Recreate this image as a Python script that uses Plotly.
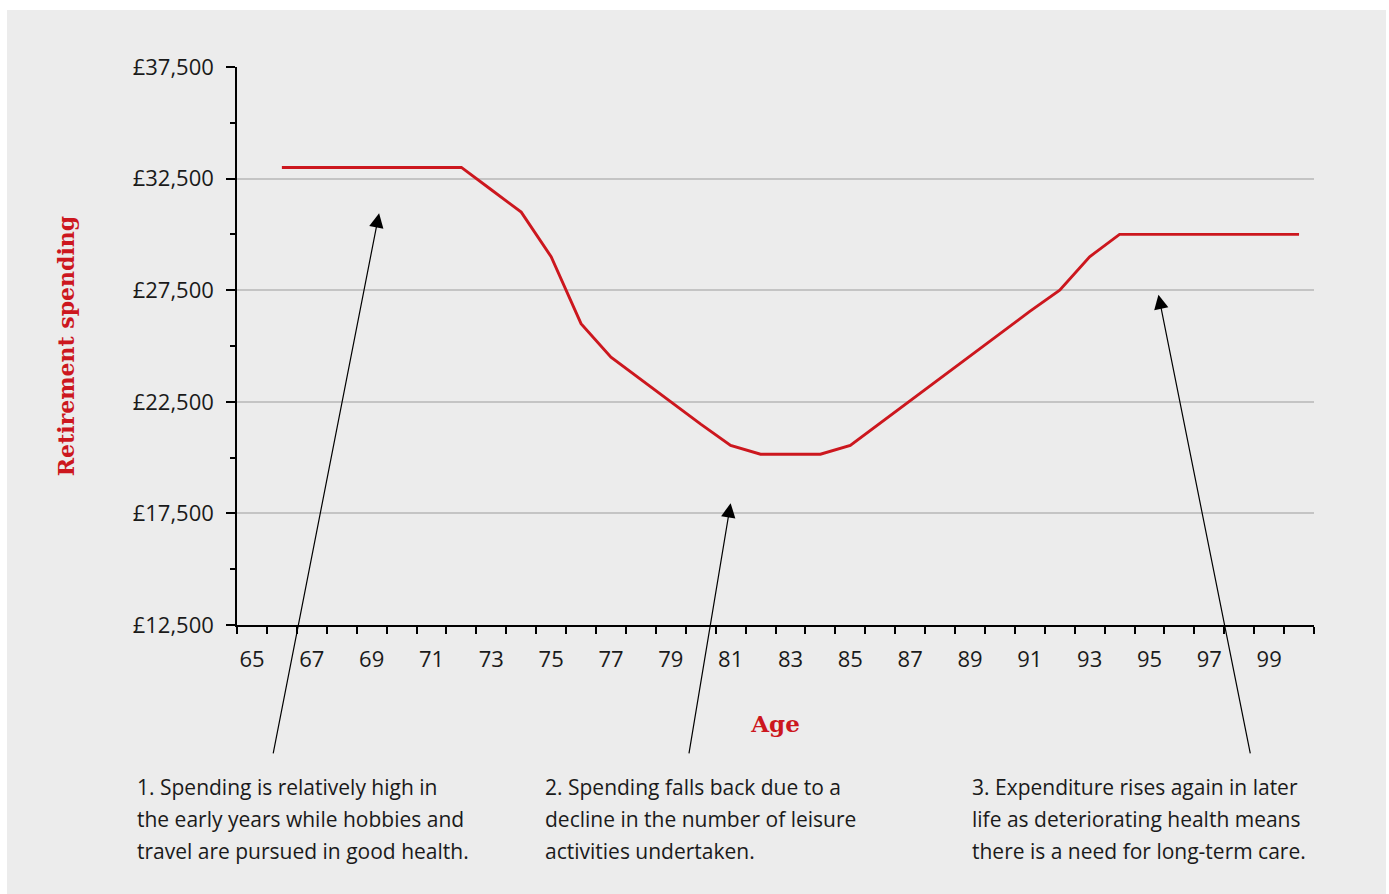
import plotly.graph_objects as go

# Retirement spending profile by age
ages = list(range(66, 101))
spending = [
    33000, 33000, 33000, 33000, 33000, 33000, 33000,   # 66-72
    32000, 31000, 29000, 26000, 24500,                 # 73-77
    23500, 22500, 21500, 20550,                        # 78-81
    20150, 20150, 20150, 20550,                        # 82-85
    21550, 22550, 23550, 24550, 25550, 26550, 27500,   # 86-92
    29000, 30000, 30000, 30000, 30000, 30000, 30000, 30000,  # 93-100
]

tick_ages = list(range(65, 100, 2))
tick_labels = [str(a) for a in tick_ages]

notes = [
    ["1. Spending is relatively high in",
     "the early years while hobbies and",
     "travel are pursued in good health."],
    ["2. Spending falls back due to a",
     "decline in the number of leisure",
     "activities undertaken."],
    ["3. Expenditure rises again in later",
     "life as deteriorating health means",
     "there is a need for long-term care."],
]
note_x = [135, 543, 970]          # left edge of each note block (px)
note_line_y = [787, 819, 851]     # centre of each note line (px)

# arrows: (head age, head value, tail age, tail value)
arrows = [
    (69.25, 30950, 65.7, 6680),
    (81.0, 17960, 79.6, 6680),
    (95.3, 27300, 98.38, 6680),
]

RED = "#cc171e"
BG = "#ececec"
W, H = 1389, 894
L, R, T, B = 237, 75, 67, 269
PW, PH = W - L - R, H - T - B


def px_to_paper(px, py):
    return (px - L) / PW, 1 - (py - T) / PH


fig = go.Figure()
fig.add_trace(go.Scatter(
    x=ages, y=spending, mode="lines",
    line=dict(color=RED, width=2.9),
    hoverinfo="skip", showlegend=False,
))

annotations = []
for (hx, hy, tx, ty) in arrows:
    annotations.append(dict(
        x=hx, y=hy, xref="x", yref="y",
        ax=tx, ay=ty, axref="x", ayref="y",
        text="", showarrow=True, arrowhead=2, arrowsize=2.4,
        arrowwidth=1.2, arrowcolor="#000000",
    ))

for block, x0 in zip(notes, note_x):
    for line, yc in zip(block, note_line_y):
        xp, yp = px_to_paper(x0, yc)
        annotations.append(dict(
            x=xp, y=yp, xref="paper", yref="paper",
            xanchor="left", yanchor="middle", showarrow=False,
            text=line, align="left",
            font=dict(family="Open Sans", size=21, color="#1a1a1a"),
        ))

bx0, by0 = px_to_paper(7, 894)
bx1, by1 = px_to_paper(1386, 10)

fig.update_layout(
    width=W, height=H,
    margin=dict(l=L, r=R, t=T, b=B),
    paper_bgcolor="#ffffff",
    plot_bgcolor=BG,
    showlegend=False,
    annotations=annotations,
    shapes=[dict(
        type="rect", xref="paper", yref="paper", layer="below",
        x0=bx0, x1=bx1, y0=by0, y1=by1,
        fillcolor=BG, line=dict(width=0),
    )],
    xaxis=dict(
        range=[64.5, 100.5],
        tickmode="array", tickvals=tick_ages, ticktext=tick_labels,
        ticks="", showgrid=False, zeroline=False,
        showline=True, linecolor="#000000", linewidth=1.5,
        tickfont=dict(family="Open Sans", size=22, color="#1a1a1a"),
        ticklabelstandoff=14,
        minor=dict(tickmode="linear", tick0=64.5, dtick=1,
                   ticks="outside", ticklen=7, tickwidth=1.5,
                   tickcolor="#000000", showgrid=False),
        title=dict(text="<b>Age</b>", standoff=44,
                   font=dict(family="DejaVu Serif", size=23, color=RED)),
    ),
    yaxis=dict(
        range=[12500, 37500],
        tickmode="linear", tick0=12500, dtick=5000,
        tickprefix="£", tickformat=",",
        ticks="outside", ticklen=9, tickwidth=1.5, tickcolor="#000000",
        showgrid=True, gridcolor="#c4c4c4", gridwidth=1.5,
        zeroline=False,
        showline=True, linecolor="#000000", linewidth=1.5,
        tickfont=dict(family="Open Sans", size=22, color="#1a1a1a"),
        ticklabelstandoff=8,
        minor=dict(tickmode="linear", tick0=12500, dtick=2500,
                   ticks="outside", ticklen=5, tickwidth=1.5,
                   tickcolor="#000000", showgrid=False),
        title=dict(text="<b>Retirement spending</b>", standoff=52,
                   font=dict(family="DejaVu Serif", size=22, color=RED)),
    ),
)

fig.write_html("out.html")
